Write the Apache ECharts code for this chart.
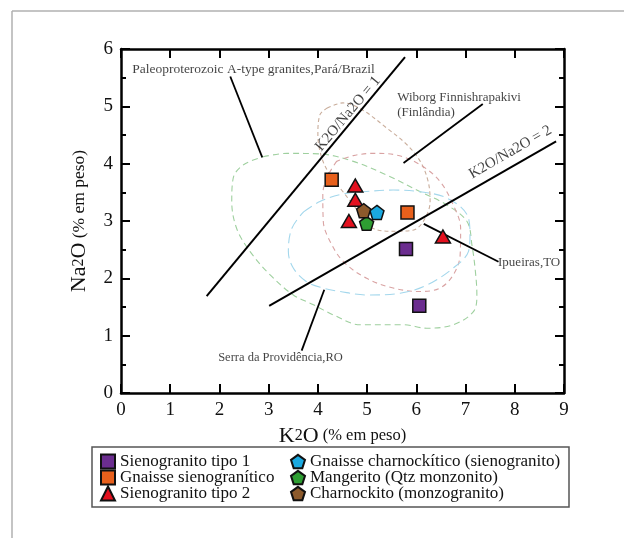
<!DOCTYPE html>
<html>
<head>
<meta charset="utf-8">
<script src="https://cdn.jsdelivr.net/npm/echarts@6/dist/echarts.min.js"></script>
<style>html,body{margin:0;padding:0;background:#fff;}#c{width:624px;height:538px;}</style>
</head>
<body>
<div id="c"></div>
<script>
// ---- data (K2O, Na2O in wt%) ----
const seriesNames = ['Sienogranito tipo 1','Gnaisse sienogranítico','Sienogranito tipo 2',
  'Gnaisse charnockítico (sienogranito)','Mangerito (Qtz monzonito)','Charnockito (monzogranito)'];
const sienoTipo1 = [[5.79,2.51],[6.06,1.52]];
const gnaisseSieno = [[4.28,3.72],[5.82,3.15]];
const sienoTipo2 = [[4.76,3.62],[4.76,3.37],[4.63,3.00],[6.54,2.73]];
const gnaisseCharn = [[5.20,3.15]];
const mangerito = [[4.99,2.96]];
const charnockito = [[4.93,3.18]];

// reference lines
const ratio1Line = [[1.74,1.69],[5.77,5.86]];
const ratio2Line = [[3.01,1.52],[8.84,4.39]];

// pointer lines
const paleoPointer = [[2.22,5.52],[2.87,4.11]];
const wiborgPointer = [[7.35,5.04],[5.74,4.01]];
const ipueirasPointer = [[6.15,2.95],[7.67,2.29]];
const serraPointer = [[3.67,0.74],[4.13,1.80]];

// envelopes
const paleoEnvelope = [[2.89,4.12],[3.37,4.18],[4.04,4.17],[4.72,4.04],[5.40,3.80],[6.08,3.51],[6.62,3.28],[7.03,2.99],
  [7.13,2.58],[7.20,2.12],[7.23,1.71],[7.16,1.42],[6.75,1.19],[6.21,1.13],[5.74,1.19],[4.86,1.19],[4.32,1.36],[3.91,1.54],
  [3.50,1.71],[3.03,2.06],[2.62,2.47],[2.35,2.87],[2.25,3.34],[2.28,3.75],[2.49,3.98],[2.89,4.12]];
const tanEnvelope = [[4.19,4.97],[4.51,5.06],[4.90,4.94],[5.40,4.62],[5.81,4.33],[6.08,4.04],[6.24,3.69],[6.28,3.34],
  [6.14,2.99],[5.93,2.84],[5.53,2.82],[5.06,2.90],[4.72,3.28],[4.51,3.51],[4.25,3.80],[4.08,4.10],[4.00,4.50],[4.04,4.85],[4.19,4.97]];
const wiborgEnvelope = [[4.38,4.04],[4.18,3.75],[4.10,3.46],[4.11,2.99],[4.25,2.64],[4.52,2.29],[4.99,2.00],[5.53,1.83],
  [6.08,1.77],[6.48,1.83],[6.75,2.06],[6.89,2.41],[6.90,2.87],[6.75,3.28],[6.48,3.69],[6.08,3.98],[5.60,4.15],[5.13,4.18],
  [4.72,4.14],[4.38,4.04]];
const ipueirasEnvelope = [[3.71,3.16],[4.04,3.34],[4.45,3.46],[4.92,3.51],[5.53,3.54],[6.08,3.51],[6.62,3.40],[7.03,3.11],
  [7.09,2.76],[7.06,2.47],[6.75,2.18],[6.21,1.88],[5.67,1.74],[4.99,1.71],[4.45,1.77],[4.11,1.83],[3.77,1.94],[3.50,2.18],
  [3.40,2.47],[3.47,2.87],[3.71,3.16]];

// annotation texts and anchor points (data coords)
const annotationTexts = ['Paleoproterozoic A-type granites,Pará/Brazil','K2O/Na2O = 1','Wiborg Finnishrapakivi',
  '(Finlândia)','K2O/Na2O = 2','Ipueiras,TO','Serra da Providência,RO'];
const annotationPos = [[2.69,5.64],[4.61,4.87],[5.61,5.15],[5.61,4.89],[7.91,4.20],[7.66,2.27],[3.24,0.62]];

// axis ranges / ticks
const xRange = [0,9];
const yRange = [0,6];

// ---- styles ----
const FONT = '"Liberation Serif","DejaVu Serif",serif';
const annStyles = [
  {align:'center',rotate:0,fontSize:13.5},
  {align:'center',rotate:50,fontSize:15},
  {align:'left',rotate:0,fontSize:13},
  {align:'left',rotate:0,fontSize:13},
  {align:'center',rotate:30,fontSize:15},
  {align:'left',rotate:0,fontSize:13},
  {align:'center',rotate:0,fontSize:12.5}
];
const pentagon = 'path://M0,-1 L0.951,-0.309 L0.588,0.809 L-0.588,0.809 L-0.951,-0.309 Z';

function lineSeries(data, color, width, dash, smooth){
  return {type:'line', data:data, symbol:'none', smooth:smooth||false, silent:true,
    lineStyle:{color:color, width:width, type:dash||'solid'}, z:dash?2:3, animation:false};
}
function scatter(name, data, symbol, size, color){
  return {type:'scatter', name:name, data:data, symbol:symbol, symbolSize:size,
    itemStyle:{color:color, borderColor:'#111', borderWidth:1.5, opacity:1}, z:10, animation:false};
}

const axisCommon = {
  interval:1,
  axisLine:{onZero:false, lineStyle:{color:'#000', width:2.5}},
  axisTick:{inside:true, length:9, lineStyle:{color:'#000', width:2}},
  splitLine:{show:false}
};
const legendText = {fontFamily:FONT, fontSize:17, color:'#111', lineHeight:14};

const chart = echarts.init(document.getElementById('c'), null, {renderer:'canvas'});
chart.setOption({
  backgroundColor:'#fff',
  animation:false,
  grid:{left:121, top:49, right:60, bottom:145, containLabel:false},
  xAxis:[
    Object.assign({}, axisCommon, {type:'value', position:'bottom', min:xRange[0], max:xRange[1],
      axisLabel:{color:'#111', fontFamily:FONT, fontSize:19, margin:8},
      name:'{a|K}{b|2}{a|O}{c| (% em peso)}', nameLocation:'middle', nameGap:30,
      nameTextStyle:{rich:{a:{fontFamily:FONT,fontSize:22,color:'#111'},b:{fontFamily:FONT,fontSize:16,color:'#111'},c:{fontFamily:FONT,fontSize:16.5,color:'#111'}}}
    }),
    Object.assign({}, axisCommon, {type:'value', position:'top', min:xRange[0], max:xRange[1], axisLabel:{show:false}})
  ],
  yAxis:[
    Object.assign({}, axisCommon, {type:'value', position:'left', min:yRange[0], max:yRange[1],
      minorTick:{show:true, splitNumber:2, length:5, lineStyle:{color:'#000', width:2}},
      axisLabel:{color:'#111', fontFamily:FONT, fontSize:19, margin:8},
      name:'{a|Na}{b|2}{a|O}{c| (% em peso)}', nameLocation:'middle', nameGap:31, nameRotate:90,
      nameTextStyle:{rich:{a:{fontFamily:FONT,fontSize:22,color:'#111'},b:{fontFamily:FONT,fontSize:16,color:'#111'},c:{fontFamily:FONT,fontSize:17.5,color:'#111'}}}
    }),
    Object.assign({}, axisCommon, {type:'value', position:'right', min:yRange[0], max:yRange[1],
      minorTick:{show:true, splitNumber:2, length:5, lineStyle:{color:'#000', width:2}},
      axisLabel:{show:false}})
  ],
  legend:[
    {orient:'vertical', left:100, top:453, padding:0, itemGap:-1, itemWidth:14, itemHeight:14,
      data:seriesNames.slice(0,3), selectedMode:false, textStyle:legendText},
    {orient:'vertical', left:290, top:453, padding:0, itemGap:-1, itemWidth:14, itemHeight:14,
      data:seriesNames.slice(3), selectedMode:false, textStyle:legendText}
  ],
  graphic:[
    {type:'line', shape:{x1:12,y1:11,x2:624,y2:11}, style:{stroke:'#b0b0b0', lineWidth:1.5}, silent:true},
    {type:'line', shape:{x1:12,y1:11,x2:12,y2:538}, style:{stroke:'#b0b0b0', lineWidth:1.5}, silent:true},
    {type:'rect', shape:{x:92,y:447,width:477,height:60}, style:{fill:'none', stroke:'#555', lineWidth:1.5}, silent:true, z:-1}
  ],
  series:[
    lineSeries(paleoEnvelope, '#9fd09f', 1.1, [6,4], 0.35),
    lineSeries(tanEnvelope, '#c9ad9b', 1.1, [4,3], 0.35),
    lineSeries(wiborgEnvelope, '#d9a3a3', 1.1, [5,4], 0.35),
    lineSeries(ipueirasEnvelope, '#a3d7ec', 1.1, [10,5], 0.35),
    lineSeries(ratio1Line, '#000', 2),
    lineSeries(ratio2Line, '#000', 2),
    lineSeries(paleoPointer, '#000', 1.8),
    lineSeries(wiborgPointer, '#000', 1.8),
    lineSeries(ipueirasPointer, '#000', 1.8),
    lineSeries(serraPointer, '#000', 1.8),
    {type:'scatter', silent:true, symbolSize:0, z:5, animation:false,
      data: annotationTexts.map((t,i)=>({value:annotationPos[i], label:{show:true, formatter:t, position:'inside',
        align:annStyles[i].align, verticalAlign:'middle', rotate:annStyles[i].rotate,
        fontFamily:FONT, fontSize:annStyles[i].fontSize, color:'#111'}}))},
    scatter(seriesNames[0], sienoTipo1, 'rect', 13, '#6b2d8f'),
    scatter(seriesNames[1], gnaisseSieno, 'rect', 13, '#e8601c'),
    scatter(seriesNames[2], sienoTipo2, 'triangle', [15,13], '#e3101e'),
    scatter(seriesNames[3], gnaisseCharn, pentagon, 14, '#1aa9e0'),
    scatter(seriesNames[4], mangerito, pentagon, 14, '#2e9e32'),
    scatter(seriesNames[5], charnockito, pentagon, 14, '#8c5a2c')
  ]
});
</script>
</body>
</html>
